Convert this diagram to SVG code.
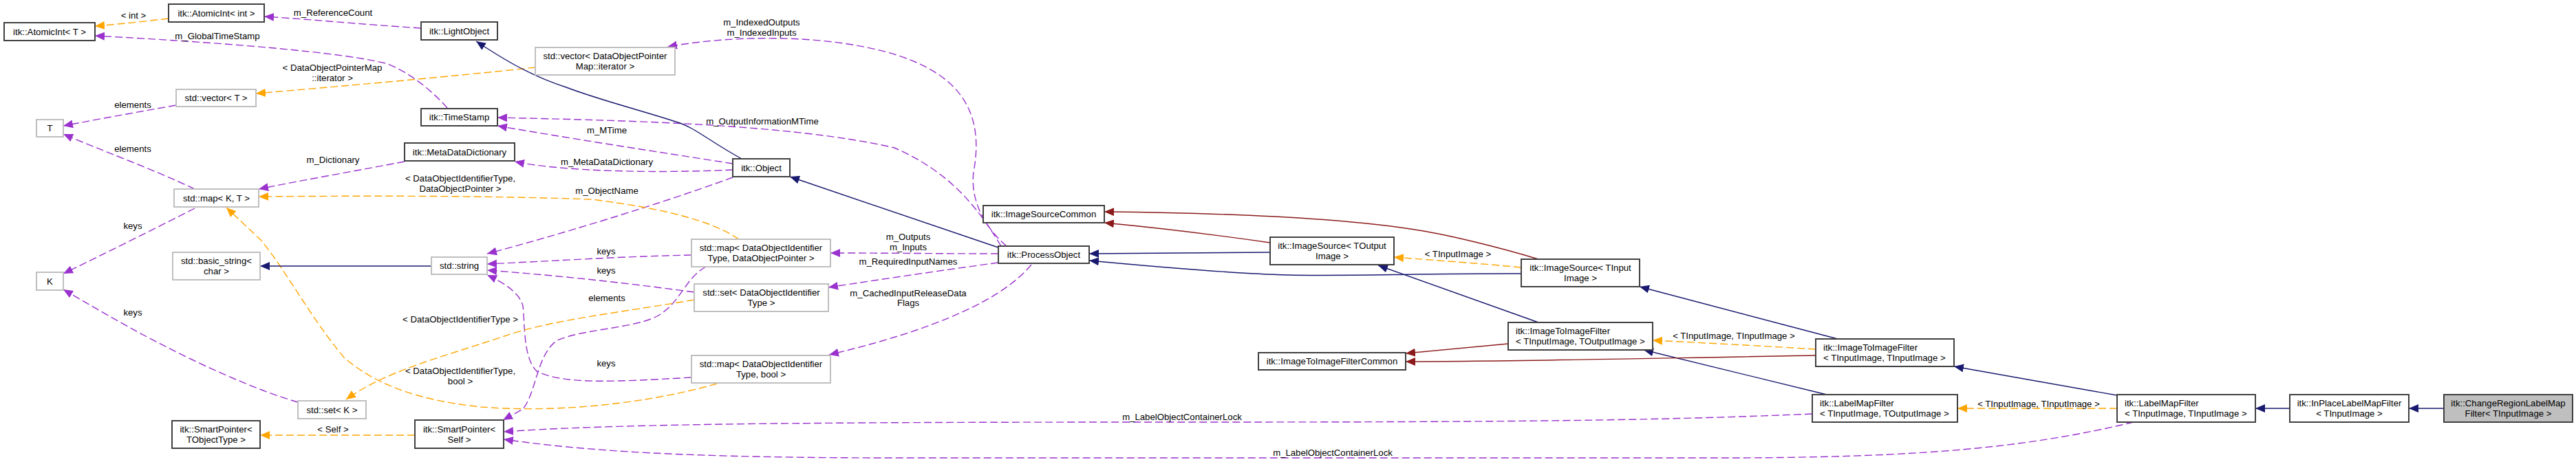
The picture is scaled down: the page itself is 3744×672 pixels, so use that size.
<svg xmlns="http://www.w3.org/2000/svg" width="3744" height="672" viewBox="0 0 3744 672">
<style>
text{font-family:"Liberation Sans",Arial,Helvetica,sans-serif;font-size:13.2px;fill:#000}
.c{text-anchor:middle}
.node rect{fill:#fff;stroke:#404040;stroke-width:2}
.node.u rect{stroke:#bfbfbf}
.node.h rect{fill:#bfbfbf}
.pu{fill:none;stroke:#9a32cd;stroke-width:1.4;stroke-dasharray:11,5;marker-end:url(#mp)}
.or{fill:none;stroke:#ffa500;stroke-width:1.4;stroke-dasharray:11,5;marker-end:url(#mo)}
.bl{fill:none;stroke:#191970;stroke-width:1.4;marker-end:url(#mb)}
.rd{fill:none;stroke:#8b1a1a;stroke-width:1.4;marker-end:url(#mr)}
</style>
<defs>
<marker id="mp" markerUnits="userSpaceOnUse" viewBox="0 0 14 12" markerWidth="14" markerHeight="12" refX="14" refY="6" orient="auto"><path d="M0,0L14,6L0,12z" fill="#9a32cd"/></marker>
<marker id="mo" markerUnits="userSpaceOnUse" viewBox="0 0 14 12" markerWidth="14" markerHeight="12" refX="14" refY="6" orient="auto"><path d="M0,0L14,6L0,12z" fill="#ffa500"/></marker>
<marker id="mb" markerUnits="userSpaceOnUse" viewBox="0 0 14 12" markerWidth="14" markerHeight="12" refX="14" refY="6" orient="auto"><path d="M0,0L14,6L0,12z" fill="#191970"/></marker>
<marker id="mr" markerUnits="userSpaceOnUse" viewBox="0 0 14 12" markerWidth="14" markerHeight="12" refX="14" refY="6" orient="auto"><path d="M0,0L14,6L0,12z" fill="#8b1a1a"/></marker>
</defs>
<rect width="3744" height="672" fill="#fff"/>
<g id="connectors">
<path class="pu" d="M612,41C520,35 450,28 384,24"/>
<text class="c" x="484" y="22.5">m_ReferenceCount</text>
<path class="pu" d="M650,157C640,145 600,105 560,92C480,72 250,58 138,52"/>
<text class="c" x="316" y="57">m_GlobalTimeStamp</text>
<path class="pu" d="M256,153C200,163 150,172 92,183"/>
<text class="c" x="193" y="156.5">elements</text>
<path class="pu" d="M283,275C220,245 150,220 92,195"/>
<text class="c" x="193" y="220.5">elements</text>
<path class="pu" d="M588,235C520,248 440,262 376,275"/>
<text class="c" x="484" y="236.5">m_Dictionary</text>
<path class="pu" d="M283,303C220,335 150,370 92,398"/>
<text class="c" x="193" y="332.5">keys</text>
<path class="pu" d="M433,585C380,570 300,535 231,499C190,478 150,455 92,421"/>
<text class="c" x="193" y="458.5">keys</text>
<path class="pu" d="M1065,238C950,220 820,200 723,183"/>
<text class="c" x="882" y="193.5">m_MTime</text>
<path class="pu" d="M1065,247C960,252 820,250 748,235"/>
<text class="c" x="882" y="239.5">m_MetaDataDictionary</text>
<path class="pu" d="M1065,258C950,300 800,345 708,369"/>
<text class="c" x="882" y="281.5">m_ObjectName</text>
<path class="pu" d="M1463,358C1430,330 1410,290 1415,250C1430,170 1400,120 1330,90C1250,55 1100,45 970,68"/>
<text class="c" x="1107" y="36.5">m_IndexedOutputs</text>
<text class="c" x="1107" y="51.5">m_IndexedInputs</text>
<path class="pu" d="M1455,358C1420,300 1380,250 1300,215C1150,180 900,175 723,171"/>
<text class="c" x="1108" y="180.5">m_OutputInformationMTime</text>
<path class="pu" d="M1005,371C900,373 800,380 708,384"/>
<text class="c" x="881" y="369.5">keys</text>
<path class="pu" d="M1009,425C900,410 800,400 708,393"/>
<text class="c" x="881" y="397.5">keys</text>
<path class="pu" d="M1005,549C900,555 820,560 780,540C760,520 763,470 760,445C755,425 730,410 708,400"/>
<text class="c" x="881" y="532.5">keys</text>
<path class="pu" d="M1026,388C995,405 990,440 955,460C920,478 850,478 810,495C780,515 780,570 760,595L731,611"/>
<text class="c" x="882" y="437.5">elements</text>
<path class="pu" d="M1451,369C1370,369 1290,368 1207,368"/>
<text class="c" x="1320" y="348.5">m_Outputs</text>
<text class="c" x="1320" y="363.5">m_Inputs</text>
<path class="pu" d="M1451,382C1370,393 1290,405 1204,418"/>
<text class="c" x="1320" y="384.5">m_RequiredInputNames</text>
<path class="pu" d="M1499,385C1470,420 1400,470 1205,516"/>
<text class="c" x="1320" y="430.5">m_CachedInputReleaseData</text>
<text class="c" x="1320" y="444.5">Flags</text>
<path class="pu" d="M2634,602C2400,612 2200,614 1700,614C1200,614 900,616 732,628"/>
<text class="c" x="1718" y="610.5">m_LabelObjectContainerLock</text>
<path class="pu" d="M3101,614C2950,650 2800,666 2500,666L1300,666C1000,666 850,656 732,639"/>
<text class="c" x="1937" y="662.5">m_LabelObjectContainerLock</text>
<path class="or" d="M245,27C210,31 175,35 138,38"/>
<text class="c" x="194" y="27">&lt; int &gt;</text>
<path class="or" d="M778,98C650,112 500,125 372,136"/>
<text class="c" x="483" y="102.5">&lt; DataObjectPointerMap</text>
<text class="c" x="483" y="117.5">::iterator &gt;</text>
<path class="or" d="M1074,348C1040,325 980,305 860,290C700,284 500,285 376,286"/>
<text class="c" x="669" y="263.5">&lt; DataObjectIdentifierType,</text>
<text class="c" x="669" y="278.5">DataObjectPointer &gt;</text>
<path class="or" d="M1042,558C930,590 800,600 700,592C600,582 540,555 500,520C450,460 420,400 380,350L329,302"/>
<text class="c" x="669" y="543.5">&lt; DataObjectIdentifierType,</text>
<text class="c" x="669" y="558.5">bool &gt;</text>
<path class="or" d="M1009,436C900,455 800,465 730,490C640,520 560,540 503,581"/>
<text class="c" x="669" y="468.5">&lt; DataObjectIdentifierType &gt;</text>
<path class="or" d="M603,633L378,633"/>
<text class="c" x="484" y="628.5">&lt; Self &gt;</text>
<path class="or" d="M2211,389C2150,383 2090,379 2026,374"/>
<text class="c" x="2119" y="373.5">&lt; TInputImage &gt;</text>
<path class="or" d="M2639,508C2560,503 2480,499 2402,495"/>
<text class="c" x="2520" y="492.5">&lt; TInputImage, TInputImage &gt;</text>
<path class="or" d="M3077,594L2845,594"/>
<text class="c" x="2963" y="591.5">&lt; TInputImage, TInputImage &gt;</text>
<path class="bl" d="M627,387L378,387"/>
<path class="bl" d="M1078,231C1030,205 1010,185 982,177C930,160 870,145 823,127C770,110 730,85 692,60"/>
<path class="bl" d="M1451,360L1148,257"/>
<path class="bl" d="M1846,367L1583,369"/>
<path class="bl" d="M2211,398C2050,398 1950,402 1872,400C1800,398 1700,390 1583,379"/>
<path class="bl" d="M2236,469L2003,386"/>
<path class="bl" d="M2671,493L2383,417"/>
<path class="bl" d="M2655,574L2389,509"/>
<path class="bl" d="M3077,575L2840,533"/>
<path class="bl" d="M3328,594L3278,594"/>
<path class="bl" d="M3552,594L3501,594"/>
<path class="rd" d="M2236,377C2180,360 2100,340 2050,333C1950,318 1800,310 1605,308"/>
<path class="rd" d="M1846,353C1770,342 1700,333 1605,324"/>
<path class="rd" d="M2192,500L2043,514"/>
<path class="rd" d="M2639,517C2400,521 2200,526 2043,526"/>
</g>
<g id="n_atomicint_int" class="node"><rect x="245" y="6" width="139" height="26"/><text class="c" x="314.5" y="23.5">itk::AtomicInt&lt; int &gt;</text></g>
<g id="n_atomicint_t" class="node"><rect x="6" y="33" width="132" height="26"/><text class="c" x="72" y="50.5">itk::AtomicInt&lt; T &gt;</text></g>
<g id="n_lightobject" class="node"><rect x="612" y="32" width="111" height="26"/><text class="c" x="667.5" y="49.5">itk::LightObject</text></g>
<g id="n_vector_dopm" class="node u"><rect x="778" y="69" width="203" height="40"/><text class="c" x="879.5" y="86">std::vector&lt; DataObjectPointer</text><text class="c" x="879.5" y="101">Map::iterator &gt;</text></g>
<g id="n_vector_t" class="node u"><rect x="256" y="130" width="116" height="25"/><text class="c" x="314" y="147">std::vector&lt; T &gt;</text></g>
<g id="n_t" class="node u"><rect x="53" y="174" width="39" height="25"/><text class="c" x="72.5" y="191">T</text></g>
<g id="n_timestamp" class="node"><rect x="612" y="158" width="111" height="25"/><text class="c" x="667.5" y="175">itk::TimeStamp</text></g>
<g id="n_metadatadictionary" class="node"><rect x="588" y="208" width="160" height="26"/><text class="c" x="668" y="225.5">itk::MetaDataDictionary</text></g>
<g id="n_map_k_t" class="node u"><rect x="253" y="275" width="123" height="26"/><text class="c" x="314.5" y="292.5">std::map&lt; K, T &gt;</text></g>
<g id="n_object" class="node"><rect x="1065" y="231" width="83" height="26"/><text class="c" x="1106.5" y="248.5">itk::Object</text></g>
<g id="n_k" class="node u"><rect x="53" y="396" width="39" height="26"/><text class="c" x="72.5" y="413.5">K</text></g>
<g id="n_basic_string" class="node u"><rect x="251" y="367" width="127" height="40"/><text class="c" x="314.5" y="384">std::basic_string&lt;</text><text class="c" x="314.5" y="399">char &gt;</text></g>
<g id="n_string" class="node u"><rect x="627" y="374" width="81" height="25"/><text class="c" x="667.5" y="391">std::string</text></g>
<g id="n_map_doit_dop" class="node u"><rect x="1005" y="348" width="202" height="40"/><text class="c" x="1106" y="365">std::map&lt; DataObjectIdentifier</text><text class="c" x="1106" y="380">Type, DataObjectPointer &gt;</text></g>
<g id="n_set_doit" class="node u"><rect x="1009" y="413" width="195" height="40"/><text class="c" x="1106.5" y="430">std::set&lt; DataObjectIdentifier</text><text class="c" x="1106.5" y="445">Type &gt;</text></g>
<g id="n_map_doit_bool" class="node u"><rect x="1005" y="517" width="202" height="40"/><text class="c" x="1106" y="534">std::map&lt; DataObjectIdentifier</text><text class="c" x="1106" y="549">Type, bool &gt;</text></g>
<g id="n_set_k" class="node u"><rect x="433" y="583" width="99" height="26"/><text class="c" x="482.5" y="600.5">std::set&lt; K &gt;</text></g>
<g id="n_smartpointer_tobjecttype" class="node"><rect x="250" y="612" width="128" height="40"/><text class="c" x="314" y="629">itk::SmartPointer&lt;</text><text class="c" x="314" y="644">TObjectType &gt;</text></g>
<g id="n_smartpointer_self" class="node"><rect x="603" y="611" width="129" height="41"/><text class="c" x="667.5" y="628.5">itk::SmartPointer&lt;</text><text class="c" x="667.5" y="643.5">Self &gt;</text></g>
<g id="n_imagesourcecommon" class="node"><rect x="1429" y="299" width="176" height="25"/><text class="c" x="1517" y="316">itk::ImageSourceCommon</text></g>
<g id="n_processobject" class="node"><rect x="1451" y="358" width="132" height="25"/><text class="c" x="1517" y="375">itk::ProcessObject</text></g>
<g id="n_imagesource_toutput" class="node"><rect x="1846" y="345" width="180" height="40"/><text class="c" x="1936" y="362">itk::ImageSource&lt; TOutput</text><text class="c" x="1936" y="377">Image &gt;</text></g>
<g id="n_imagesource_tinput" class="node"><rect x="2211" y="377" width="172" height="40"/><text class="c" x="2297" y="394">itk::ImageSource&lt; TInput</text><text class="c" x="2297" y="409">Image &gt;</text></g>
<g id="n_imagetoimagefiltercommon" class="node"><rect x="1829" y="513" width="214" height="25"/><text class="c" x="1936" y="530">itk::ImageToImageFilterCommon</text></g>
<g id="n_i2i_tin_tout" class="node"><rect x="2192" y="469" width="210" height="40"/><text x="2203" y="486">itk::ImageToImageFilter</text><text x="2203" y="501">&lt; TInputImage, TOutputImage &gt;</text></g>
<g id="n_i2i_tin_tin" class="node"><rect x="2639" y="493" width="201" height="40"/><text x="2650" y="510">itk::ImageToImageFilter</text><text x="2650" y="525">&lt; TInputImage, TInputImage &gt;</text></g>
<g id="n_lmf_tin_tout" class="node"><rect x="2634" y="574" width="211" height="40"/><text x="2645" y="591">itk::LabelMapFilter</text><text x="2645" y="606">&lt; TInputImage, TOutputImage &gt;</text></g>
<g id="n_lmf_tin_tin" class="node"><rect x="3077" y="574" width="201" height="40"/><text x="3088" y="591">itk::LabelMapFilter</text><text x="3088" y="606">&lt; TInputImage, TInputImage &gt;</text></g>
<g id="n_inplacelabelmapfilter" class="node"><rect x="3328" y="574" width="173" height="40"/><text class="c" x="3414.5" y="591">itk::InPlaceLabelMapFilter</text><text class="c" x="3414.5" y="606">&lt; TInputImage &gt;</text></g>
<g id="n_changeregionlabelmapfilter" class="node h"><rect x="3552" y="574" width="187" height="40"/><text class="c" x="3645.5" y="591">itk::ChangeRegionLabelMap</text><text class="c" x="3645.5" y="606">Filter&lt; TInputImage &gt;</text></g>
</svg>
